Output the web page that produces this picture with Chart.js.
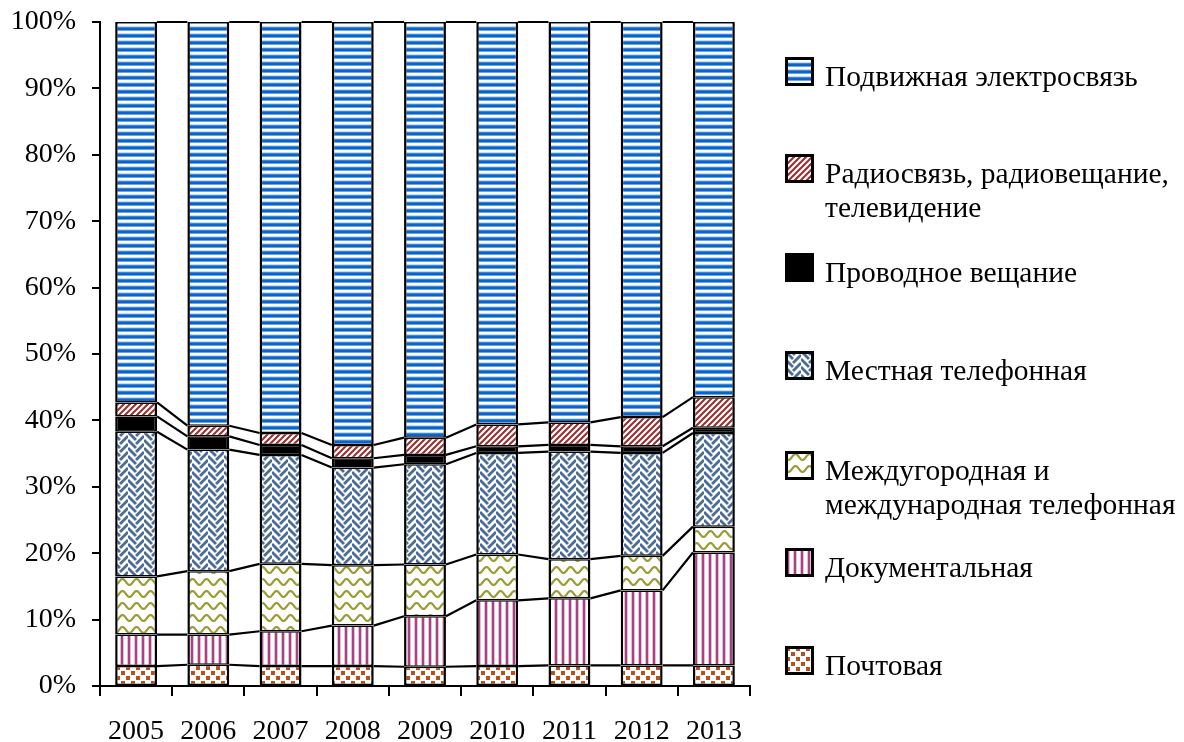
<!DOCTYPE html>
<html>
<head>
<meta charset="utf-8">
<title>Структура доходов от услуг связи</title>
<script src="https://cdn.jsdelivr.net/npm/chart.js@4.4.0/dist/chart.umd.min.js"></script>
<style>
  body { margin: 0; background: #fff; }
  #wrap { position: relative; width: 1184px; height: 742px; }
  #chart { position: absolute; left: 0; top: 0; }
  .legend-item {
    position: absolute;
    left: 785px;
    font-family: "Liberation Serif", "Times New Roman", serif;
    font-size: 29.5px;
    line-height: 34px;
    color: #000;
    white-space: nowrap;
  }
  .legend-item canvas { position: absolute; left: 0; }
  .legend-item span { display: block; margin-left: 40px; }
</style>
</head>
<body>
<div id="wrap">
  <canvas id="chart" width="1184" height="742"></canvas>
  <div id="legend"></div>
</div>
<script>
// Years on the x axis
var years = ['2005', '2006', '2007', '2008', '2009', '2010', '2011', '2012', '2013'];

// Share of each service in revenue, % (bottom to top of the stack)
var postal       = [3.0, 3.2, 3.0, 3.0, 2.9, 3.0, 3.1, 3.1, 3.1];
var documentary  = [4.75, 4.55, 5.25, 6.1, 7.6, 9.9, 10.1, 11.3, 17.0];
var longDistance = [8.75, 9.55, 10.15, 9.1, 7.8, 6.9, 5.9, 5.2, 3.9];
var localPhone   = [21.8, 18.3, 16.4, 14.7, 15.1, 15.3, 16.2, 15.5, 14.1];
var wired        = [2.3, 2.0, 1.5, 1.4, 1.4, 1.0, 1.0, 1.0, 0.8];
var radio        = [2.1, 1.6, 1.8, 2.0, 2.6, 3.3, 3.4, 4.4, 4.6];
var mobile       = [57.3, 60.8, 61.9, 63.7, 62.6, 60.6, 60.3, 59.5, 56.5];

var seriesNames = [
  'Почтовая',
  'Документальная',
  'Междугородная и\nмеждународная телефонная',
  'Местная телефонная',
  'Проводное вещание',
  'Радиосвязь, радиовещание,\nтелевидение',
  'Подвижная электросвязь'
];

var yTicks = [0, 10, 20, 30, 40, 50, 60, 70, 80, 90, 100];

// Build a repeating fill pattern from a small tile
function makePattern(w, h, draw) {
  var tile = document.createElement('canvas');
  tile.width = w;
  tile.height = h;
  var t = tile.getContext('2d');
  t.fillStyle = '#fff';
  t.fillRect(0, 0, w, h);
  draw(t, w, h);
  return t.createPattern(tile, 'repeat');
}

var patterns = {
  postal: makePattern(10, 10, function(t) {
    t.fillStyle = '#b9501a';
    t.fillRect(1, 1, 4, 4);
    t.fillRect(6, 6, 4, 4);
  }),
  documentary: makePattern(7, 1, function(t) {
    t.fillStyle = '#e6bcd6';
    t.fillRect(1, 0, 1, 1);
    t.fillRect(4, 0, 1, 1);
    t.fillStyle = '#a8437f';
    t.fillRect(2, 0, 2, 1);
  }),
  longDistance: makePattern(14, 12, function(t) {
    t.strokeStyle = '#9c9c36';
    t.lineWidth = 2.2;
    t.beginPath();
    for (var x = -1; x <= 15; x++) {
      var y = 6 + 3 * Math.sin(2 * Math.PI * x / 14);
      if (x === -1) t.moveTo(x, y); else t.lineTo(x, y);
    }
    t.stroke();
  }),
  // herringbone: "\" strokes in the left column, "/" strokes in the right one
  localPhone: makePattern(16, 16, function(t) {
    t.strokeStyle = '#4a6a98';
    t.lineWidth = 2.8;
    t.beginPath();
    for (var k = -2; k <= 3; k++) {
      t.moveTo(0, k * 8); t.lineTo(8, k * 8 + 8);
      t.moveTo(8, k * 8 + 12); t.lineTo(16, k * 8 + 4);
    }
    t.stroke();
  }),
  wired: '#000',
  radio: makePattern(6, 6, function(t) {
    t.strokeStyle = '#9c2b2b';
    t.lineWidth = 2;
    t.beginPath();
    t.moveTo(-3, 3); t.lineTo(3, -3);
    t.moveTo(0, 6); t.lineTo(6, 0);
    t.moveTo(3, 9); t.lineTo(9, 3);
    t.stroke();
  }),
  mobile: makePattern(1, 7, function(t) {
    var rows = ['#0b63c8', '#0b63c8', '#6aa5e6', '#ffffff', '#ffffff', '#c5dcf5', '#3c86d8'];
    for (var i = 0; i < rows.length; i++) {
      t.fillStyle = rows[i];
      t.fillRect(0, i, 1, 1);
    }
  })
};

var fills = [patterns.postal, patterns.documentary, patterns.longDistance,
             patterns.localPhone, patterns.wired, patterns.radio, patterns.mobile];
var values = [postal, documentary, longDistance, localPhone, wired, radio, mobile];

var datasets = values.map(function(v, i) {
  return {
    label: seriesNames[i],
    data: v,
    backgroundColor: fills[i],
    borderColor: '#000',
    borderWidth: { top: 1.5, bottom: 1.5, left: 2.5, right: 2.5 },
    borderSkipped: false,
    categoryPercentage: 1,
    barPercentage: 0.58
  };
});

// Excel-like series lines joining the segment tops of neighbouring bars
var seriesLines = {
  id: 'seriesLines',
  afterDatasetsDraw: function(chart) {
    var ctx = chart.ctx;
    ctx.save();
    ctx.strokeStyle = '#000';
    ctx.lineWidth = 2.2;
    chart.data.datasets.forEach(function(ds, d) {
      var bars = chart.getDatasetMeta(d).data;
      ctx.beginPath();
      for (var i = 0; i < bars.length - 1; i++) {
        var a = bars[i], b = bars[i + 1];
        ctx.moveTo(a.x + a.width / 2, a.y);
        ctx.lineTo(b.x - b.width / 2, b.y);
      }
      ctx.stroke();
    });
    ctx.restore();
  }
};

var tickFont = { family: '"Liberation Serif", "Times New Roman", serif', size: 28, lineHeight: 1.2 };

new Chart(document.getElementById('chart'), {
  type: 'bar',
  data: { labels: years, datasets: datasets },
  options: {
    responsive: false,
    animation: false,
    events: [],
    layout: { padding: { top: 22, right: 434, bottom: 0, left: 0 } },
    plugins: { legend: { display: false }, tooltip: { enabled: false } },
    scales: {
      x: {
        stacked: true,
        offset: true,
        grid: { offset: true, drawOnChartArea: false, color: '#000', lineWidth: 2, tickLength: 10 },
        border: { display: true, color: '#000', width: 2 },
        ticks: { color: '#000', font: tickFont, padding: 19, maxRotation: 0 },
        afterFit: function(scale) { scale.height = 56; }
      },
      y: {
        stacked: true,
        min: 0,
        max: 100,
        afterBuildTicks: function(scale) {
          scale.ticks = yTicks.map(function(v) { return { value: v }; });
        },
        grid: { drawOnChartArea: false, color: '#000', lineWidth: 2, tickLength: 8 },
        border: { display: true, color: '#000', width: 2 },
        ticks: {
          color: '#000',
          font: tickFont,
          padding: 16,
          callback: function(v) { return v + '%'; }
        },
        afterFit: function(scale) {
          scale.width = 100;
          // tick padding should not push the plot area down
          scale.paddingTop = 0;
          scale.paddingBottom = 0;
        }
      }
    }
  },
  plugins: [seriesLines]
});

// Legend on the right, top entry first
var legendTops = [648, 550, 453, 353, 255, 156, 59];
var legendEl = document.getElementById('legend');
for (var i = seriesNames.length - 1; i >= 0; i--) {
  var item = document.createElement('div');
  item.className = 'legend-item';
  item.style.top = legendTops[i] + 'px';

  var sw = document.createElement('canvas');
  sw.width = 29;
  sw.height = 29;
  sw.style.top = '-2px';
  var sctx = sw.getContext('2d');
  sctx.fillStyle = fills[i];
  sctx.fillRect(0, 0, 29, 29);
  sctx.strokeStyle = '#000';
  sctx.lineWidth = 3;
  sctx.strokeRect(1.5, 1.5, 26, 26);
  item.appendChild(sw);

  var text = document.createElement('span');
  text.innerHTML = seriesNames[i].replace('\n', '<br>');
  item.appendChild(text);
  legendEl.appendChild(item);
}
</script>
</body>
</html>
